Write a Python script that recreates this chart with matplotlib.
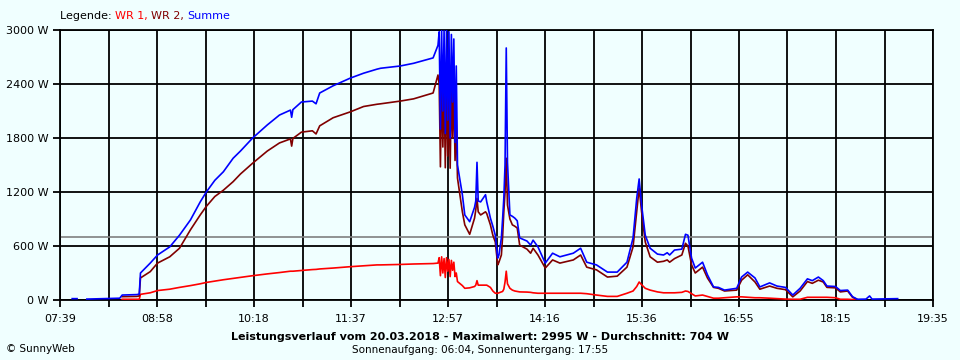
import numpy as np
import matplotlib
matplotlib.use("Agg")
import matplotlib.pyplot as plt

nan = np.nan

# Messwerte vom 20.03.2018 (Uhrzeit, WR 1, WR 2, Summe) in W
zeit = ["07:49", "07:53", "07:54", "08:01", "08:15", "08:28", "08:30", "08:42", "08:44", "08:45",
        "08:53", "08:59", "09:09", "09:17", "09:26", "09:34", "09:39", "09:46", "09:53", "10:01",
        "10:07", "10:17", "10:29", "10:39", "10:48", "10:49", "10:50", "10:57", "11:06", "11:09",
        "11:12", "11:23", "11:37", "11:48", "11:59", "12:02", "12:18", "12:29", "12:45", "12:49",
        "12:50", "12:51", "12:52", "12:53", "12:54", "12:55", "12:56", "12:57", "12:58", "12:59",
        "13:00", "13:01", "13:02", "13:03", "13:04", "13:05", "13:09", "13:11", "13:15", "13:19",
        "13:20", "13:21", "13:22", "13:24", "13:28", "13:29", "13:32", "13:34", "13:36", "13:38",
        "13:39", "13:41", "13:42", "13:43", "13:44", "13:45", "13:46", "13:48", "13:50", "13:52",
        "13:54", "13:56", "14:02", "14:05", "14:07", "14:11", "14:17", "14:23", "14:29", "14:40",
        "14:46", "14:51", "14:59", "15:08", "15:16", "15:24", "15:29", "15:32", "15:34", "15:36",
        "15:39", "15:43", "15:49", "15:54", "15:57", "15:59", "16:03", "16:09", "16:12", "16:14",
        "16:17", "16:20", "16:26", "16:30", "16:35", "16:39", "16:44", "16:54", "16:58", "17:03",
        "17:09", "17:13", "17:21", "17:27", "17:34", "17:40", "17:46", "17:52", "17:56", "18:01",
        "18:05", "18:08", "18:15", "18:19", "18:25", "18:29", "18:33", "18:40", "18:43", "18:45",
        "19:06"]

wr1 = [nan, nan, nan, nan, nan, nan, 8, 8, 8, 63,
       80, 105, 120, 140, 160, 180, 195, 210, 225, 240,
       252, 270, 290, 305, 320, 320, 320, 328, 338, 340,
       345, 355, 370, 380, 390, 390, 395, 400, 405, 410,
       470, 270, 480, 300, 460, 250, 470, 320, 450, 260,
       440, 330, 420, 260, 300, 205, 160, 130, 135, 150,
       165, 215, 165, 165, 165, 165, 140, 100, 75, 75,
       80, 90, 95, 120, 200, 320, 180, 130, 110, 100,
       95, 90, 88, 85, 80, 75, 75, 75, 75, 75,
       75, 70, 55, 40, 40, 75, 100, 150, 200, 170,
       130, 110, 90, 80, 80, 80, 80, 85, 100, 95,
       70, 45, 55, 40, 20, 20, 25, 35, 35, 30,
       25, 25, 20, 15, 10, 8, 8, 30, 30, 30,
       30, 30, 25, 8, 8, 5, 0, nan, nan, nan,
       nan]

wr2 = [nan, nan, nan, nan, nan, nan, 37, 40, 45, 245,
       315, 410, 480, 575, 780, 945, 1040, 1150, 1220, 1315,
       1400, 1520, 1655, 1745, 1790, 1710, 1795, 1865, 1880, 1845,
       1935, 2025, 2090, 2150, 2175, 2180, 2210, 2235, 2300, 2500,
       2400, 1480, 2480, 1700, 2450, 1470, 2500, 1600, 2450, 1465,
       2400, 1800, 2350, 1550, 2000, 1355, 980, 835, 730, 910,
       1000, 1130, 980, 945, 980, 960, 835, 720, 645, 390,
       420, 500, 700, 980, 1200, 1575, 1055, 900, 835, 820,
       800, 610, 565, 520, 575, 500, 355, 445, 410, 445,
       500, 365, 335, 255, 265, 365, 590, 980, 1245, 980,
       645, 480, 420, 430, 445, 420, 460, 500, 630, 600,
       390, 300, 365, 245, 140, 130, 100, 110, 220, 280,
       200, 120, 155, 130, 115, 35, 100, 205, 185, 220,
       200, 140, 135, 90, 100, 30, 5, nan, nan, nan,
       nan]

summe = [15, 15, nan, 10, 15, 20, 55, 60, 65, 300,
         410, 500, 590, 720, 890, 1090, 1200, 1330, 1425, 1575,
         1655, 1800, 1945, 2055, 2110, 2030, 2115, 2200, 2210, 2180,
         2300, 2380, 2465, 2520, 2565, 2575, 2600, 2630, 2690, 2830,
         2980, 1900, 3000, 2100, 2990, 1850, 3000, 2000, 2980, 1800,
         2950, 2200, 2900, 1750, 2600, 1500, 1170, 945, 870, 1030,
         1100, 1530, 1100, 1090, 1170, 1090, 910, 820, 720, 465,
         500, 690, 900, 1130, 1500, 2800, 1530, 945, 930, 910,
         880, 690, 655, 610, 665, 590, 410, 520, 480, 520,
         575, 420, 390, 310, 310, 420, 690, 1130, 1345, 1055,
         720, 575, 510, 500, 525, 500, 555, 565, 730, 720,
         465, 355, 420, 280, 145, 140, 110, 130, 255, 310,
         245, 145, 190, 155, 140, 55, 130, 235, 215, 255,
         215, 155, 150, 105, 110, 37, 8, 10, 45, 10,
         15]

x_labels = ["07:39", "08:58", "10:18", "11:37", "12:57", "14:16", "15:36", "16:55", "18:15", "19:35"]
durchschnitt = 704


def minuten(s):
    h, m = s.split(":")
    return int(h) * 60 + int(m)


t = np.array([minuten(z) for z in zeit])
t0 = minuten(x_labels[0])
t1 = minuten(x_labels[-1])

bg = "#F0FFFF"
fs = 8
fig = plt.figure(figsize=(9.6, 3.6), dpi=100, facecolor=bg)
ax = fig.add_axes([60 / 960, 1 - 300 / 360, 873 / 960, 270 / 360], facecolor=bg)

ax.plot(t, wr1, color="#FF0000", lw=1.2, zorder=3)
ax.plot(t, wr2, color="#800000", lw=1.2, zorder=4)
ax.plot(t, summe, color="#0000FF", lw=1.2, zorder=5)
ax.axhline(durchschnitt, color="#808080", lw=1.2, zorder=2)

ax.set_xlim(t0, t1)
ax.set_ylim(0, 3000)

# Gitter alle halbe Beschriftungsschritte, Beschriftung nur jede zweite Linie
xt = np.linspace(t0, t1, 19)
ax.set_xticks(xt)
ax.set_xticklabels([x_labels[i // 2] if i % 2 == 0 else "" for i in range(19)])
yt = np.arange(0, 3001, 600)
ax.set_yticks(yt)
ax.set_yticklabels([f"{v} W" for v in yt])

ax.grid(True, color="black", lw=1.3, zorder=1)
for sp in ax.spines.values():
    sp.set_color("black")
    sp.set_linewidth(1.3)
ax.tick_params(axis="both", length=5, width=1.3, color="black", labelsize=fs, pad=3)
ax.tick_params(axis="x", pad=5)

# Legende oben, Teile hintereinander gesetzt
renderer = fig.canvas.get_renderer()
xpos = 60 / 960
for txt, col in [("Legende: ", "black"), ("WR 1, ", "#FF0000"), ("WR 2, ", "#800000"), ("Summe", "#0000FF")]:
    tx = fig.text(xpos, 1 - 16 / 360, txt, fontsize=fs, va="center", ha="left", color=col)
    bb = tx.get_window_extent(renderer=renderer)
    xpos += bb.width / fig.bbox.width

fig.text(480 / 960, 1 - 337 / 360,
         "Leistungsverlauf vom 20.03.2018 - Maximalwert: 2995 W - Durchschnitt: 704 W",
         fontsize=fs, fontweight="bold", ha="center", va="center")
fig.text(480 / 960, 1 - 350 / 360, "Sonnenaufgang: 06:04, Sonnenuntergang: 17:55",
         fontsize=7.5, ha="center", va="center")
fig.text(6 / 960, 1 - 349 / 360, "© SunnyWeb", fontsize=7.5, ha="left", va="center")

fig.savefig("out.png", dpi=100, facecolor=bg)
